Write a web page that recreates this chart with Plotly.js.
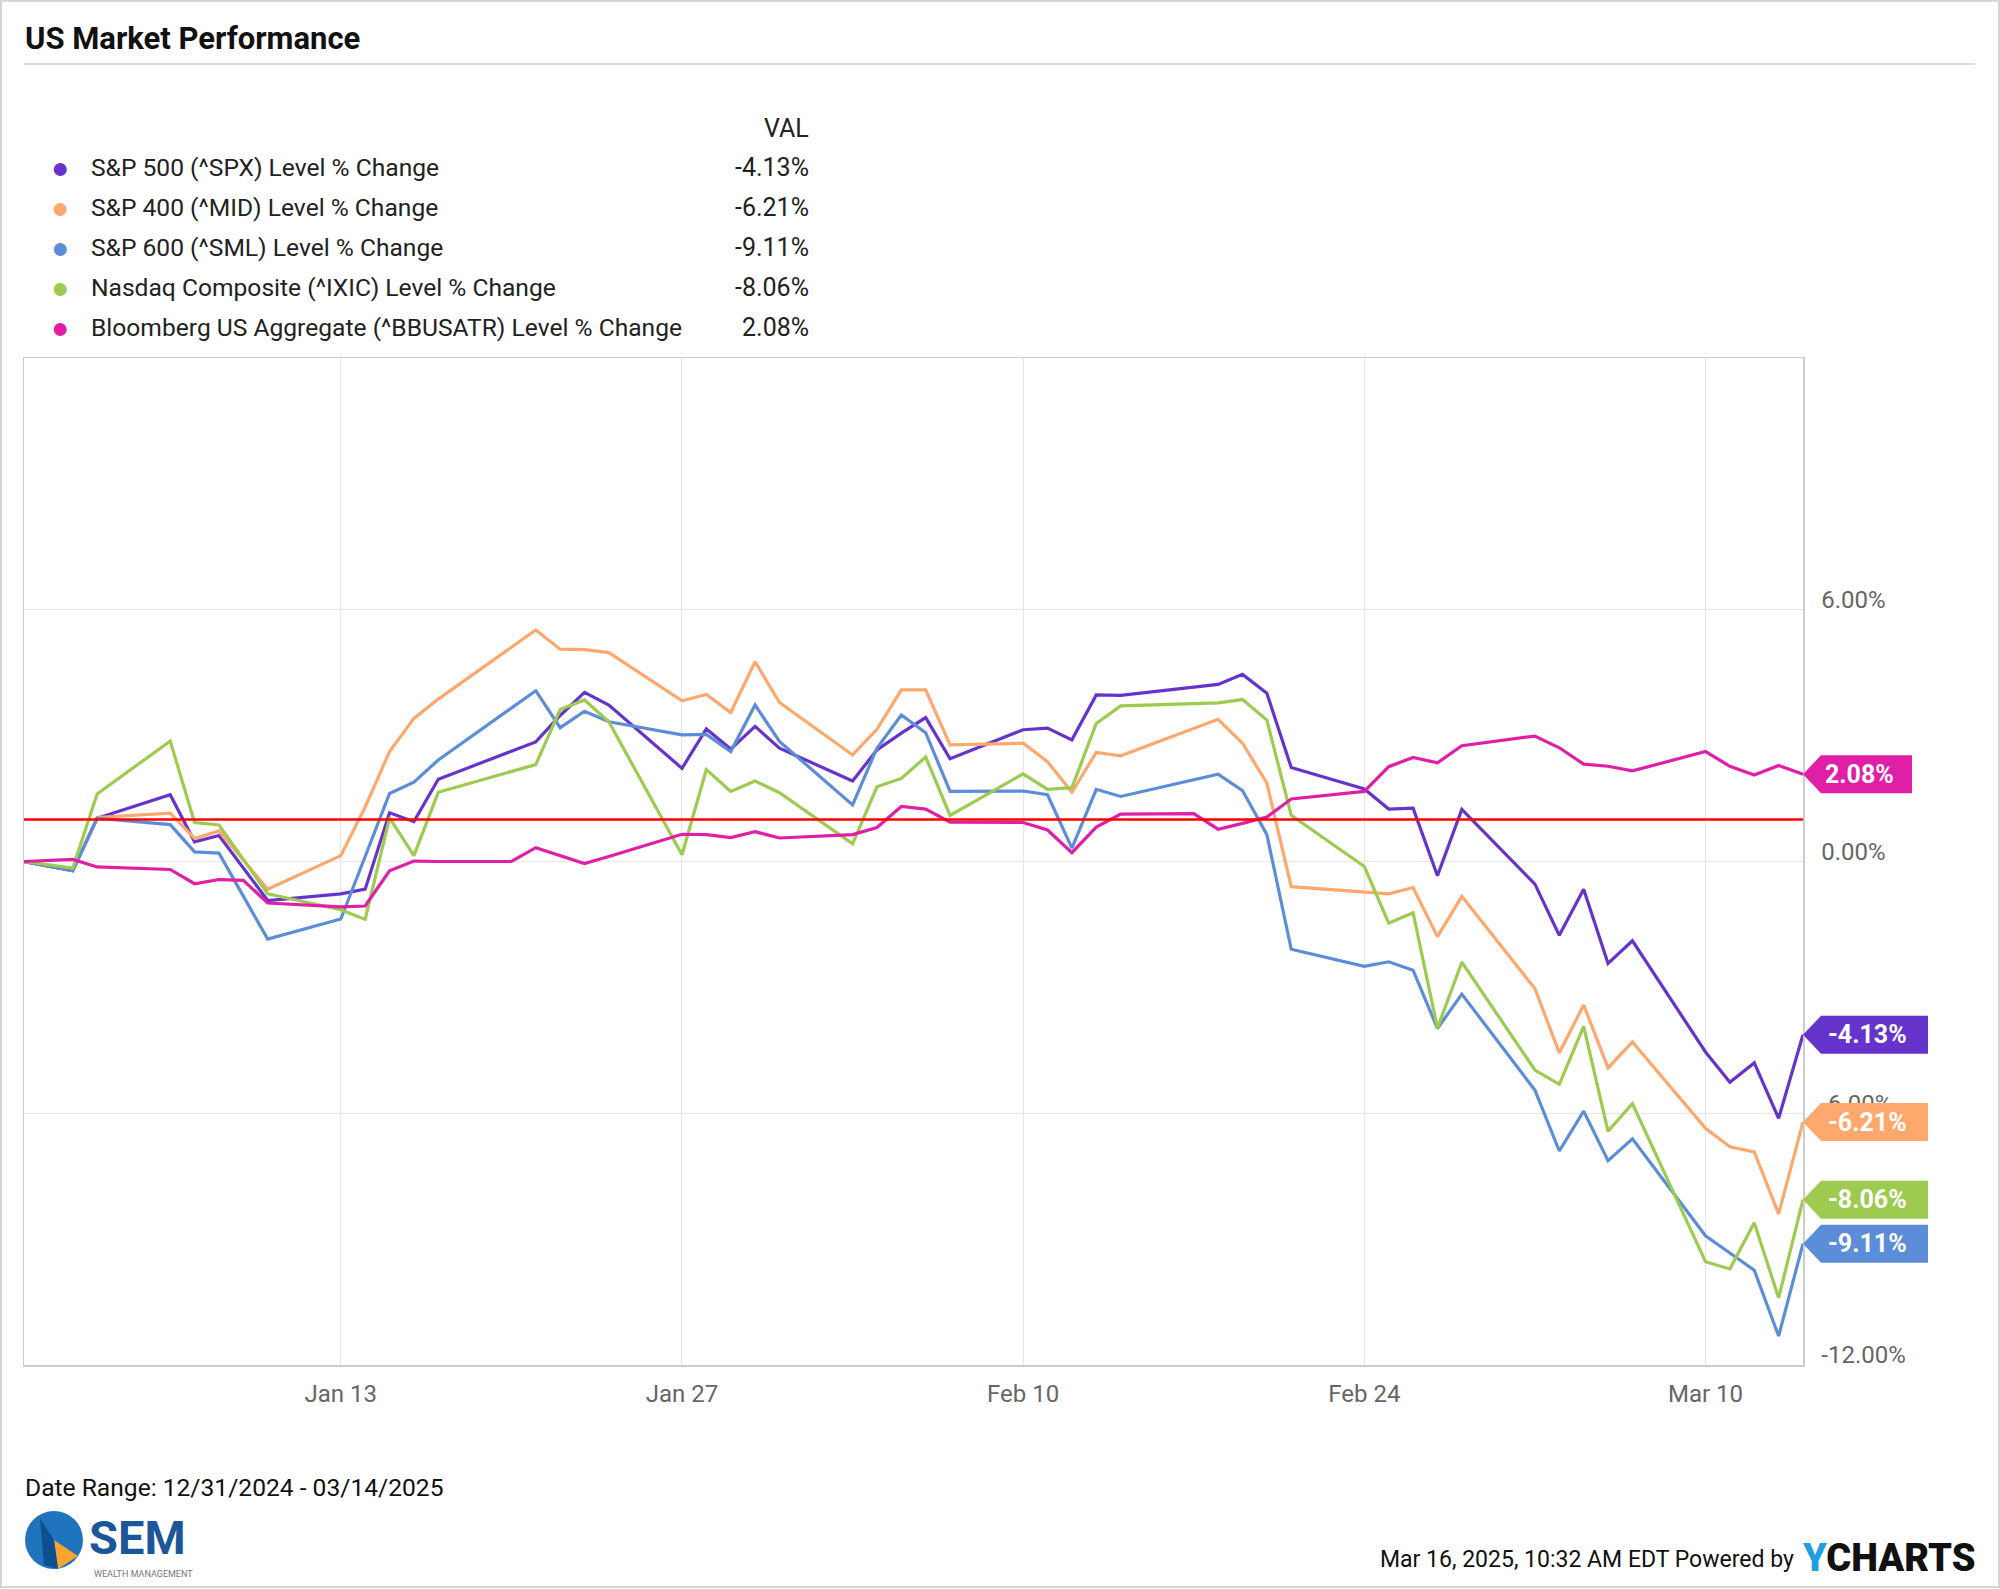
<!DOCTYPE html>
<html>
<head>
<meta charset="utf-8">
<script src="https://cdn.plot.ly/plotly-3.0.1.min.js"></script>
<style>
  html, body { margin: 0; padding: 0; background: #ffffff; }
  #chart { width: 2000px; height: 1589px; }
</style>
</head>
<body>
<div id="chart"></div>
<script>
// ---------------- DATA ----------------
const stockDates = [
  '2024-12-31','2025-01-02','2025-01-03','2025-01-06','2025-01-07','2025-01-08','2025-01-10',
  '2025-01-13','2025-01-14','2025-01-15','2025-01-16','2025-01-17','2025-01-21','2025-01-22',
  '2025-01-23','2025-01-24','2025-01-27','2025-01-28','2025-01-29','2025-01-30','2025-01-31',
  '2025-02-03','2025-02-04','2025-02-05','2025-02-06','2025-02-07','2025-02-10','2025-02-11',
  '2025-02-12','2025-02-13','2025-02-14','2025-02-18','2025-02-19','2025-02-20','2025-02-21',
  '2025-02-24','2025-02-25','2025-02-26','2025-02-27','2025-02-28','2025-03-03','2025-03-04',
  '2025-03-05','2025-03-06','2025-03-07','2025-03-10','2025-03-11','2025-03-12','2025-03-13',
  '2025-03-14'
];
const bondDates = [
  '2024-12-31','2025-01-02','2025-01-03','2025-01-06','2025-01-07','2025-01-08','2025-01-09',
  '2025-01-10','2025-01-13','2025-01-14','2025-01-15','2025-01-16','2025-01-17','2025-01-20',
  '2025-01-21','2025-01-22','2025-01-23','2025-01-24','2025-01-27','2025-01-28','2025-01-29',
  '2025-01-30','2025-01-31','2025-02-03','2025-02-04','2025-02-05','2025-02-06','2025-02-07',
  '2025-02-10','2025-02-11','2025-02-12','2025-02-13','2025-02-14','2025-02-17','2025-02-18',
  '2025-02-19','2025-02-20','2025-02-21','2025-02-24','2025-02-25','2025-02-26','2025-02-27',
  '2025-02-28','2025-03-03','2025-03-04','2025-03-05','2025-03-06','2025-03-07','2025-03-10',
  '2025-03-11','2025-03-12','2025-03-13','2025-03-14'
];
const spx = [0, -0.22, 1.03, 1.59, 0.47, 0.62, -0.93, -0.77, -0.66, 1.16, 0.95, 1.96, 2.85, 3.48,
  4.03, 3.73, 2.22, 3.16, 2.68, 3.22, 2.70, 1.92, 2.66, 3.06, 3.43, 2.45, 3.14, 3.18, 2.90, 3.97,
  3.96, 4.22, 4.46, 4.01, 2.24, 1.73, 1.25, 1.27, -0.34, 1.24, -0.54, -1.76, -0.66, -2.43, -1.89,
  -4.54, -5.26, -4.80, -6.12, -4.13];
const mid = [0, -0.20, 1.05, 1.15, 0.55, 0.73, -0.66, 0.14, 1.30, 2.62, 3.41, 3.87, 5.52, 5.06,
  5.05, 4.98, 3.83, 3.98, 3.55, 4.76, 3.79, 2.54, 3.15, 4.09, 4.09, 2.78, 2.82, 2.38, 1.65, 2.60,
  2.52, 3.39, 2.82, 1.87, -0.60, -0.72, -0.77, -0.62, -1.79, -0.83, -3.03, -4.56, -3.42, -4.92,
  -4.30, -6.36, -6.80, -6.92, -8.40, -6.21];
const sml = [0, -0.22, 1.03, 0.88, 0.23, 0.20, -1.85, -1.37, 0.12, 1.62, 1.89, 2.42, 4.07, 3.19,
  3.58, 3.33, 3.02, 3.03, 2.62, 3.73, 2.86, 1.35, 2.70, 3.49, 3.07, 1.67, 1.68, 1.59, 0.32, 1.72,
  1.55, 2.08, 1.69, 0.64, -2.09, -2.50, -2.39, -2.59, -3.98, -3.16, -5.45, -6.90, -5.95, -7.13,
  -6.61, -8.92, -9.33, -9.74, -11.31, -9.11];
const ixic = [0, -0.16, 1.61, 2.87, 0.93, 0.87, -0.77, -1.15, -1.38, 1.04, 0.14, 1.65, 2.31, 3.62,
  3.85, 3.33, 0.16, 2.19, 1.67, 1.92, 1.64, 0.42, 1.78, 1.98, 2.49, 1.10, 2.09, 1.72, 1.76, 3.29,
  3.71, 3.78, 3.86, 3.37, 1.10, -0.12, -1.47, -1.22, -3.97, -2.40, -4.97, -5.31, -3.93, -6.43,
  -5.77, -9.54, -9.71, -8.61, -10.40, -8.06];
const bbusatr = [0, 0.05, -0.13, -0.19, -0.53, -0.43, -0.45, -0.99, -1.08, -1.06, -0.22, 0.01, 0.00,
  0.00, 0.33, 0.14, -0.05, 0.12, 0.65, 0.64, 0.57, 0.71, 0.56, 0.64, 0.81, 1.31, 1.25, 0.94, 0.93,
  0.75, 0.21, 0.82, 1.13, 1.14, 0.77, 0.91, 1.06, 1.49, 1.67, 2.26, 2.48, 2.35, 2.76, 2.99, 2.71,
  2.32, 2.27, 2.16, 2.62, 2.27, 2.06, 2.29, 2.08];

const seriesNames = [
  'S&P 500 (^SPX) Level % Change',
  'S&P 400 (^MID) Level % Change',
  'S&P 600 (^SML) Level % Change',
  'Nasdaq Composite (^IXIC) Level % Change',
  'Bloomberg US Aggregate (^BBUSATR) Level % Change'
];
const seriesColors = ['#6633cc', '#ffa86e', '#5b8dd9', '#9ccb4f', '#e01fa6'];
const seriesX = [stockDates, stockDates, stockDates, stockDates, bondDates];
const seriesY = [spx, mid, sml, ixic, bbusatr];

const refLevel = [1.0];
const yTickVals = [-12, -6, 0, 6];
const xTickVals = ['2025-01-13', '2025-01-27', '2025-02-10', '2025-02-24', '2025-03-10'];
const xRange = ['2024-12-31', '2025-03-14'];
const yRange = [-12, 12];

// ---------------- LAYOUT HELPERS ----------------
const W = 2000, H = 1589;
const M = { l: 24, r: 197, t: 358, b: 224 };
const PW = W - M.l - M.r, PH = H - M.t - M.b;
const px2x = p => (p - M.l) / PW;
const px2y = p => (H - M.b - p) / PH;
const yUnitsPerPx = (yRange[1] - yRange[0]) / PH;
const FONT = 'Roboto, "Noto Sans", Arial, sans-serif';

const traces = seriesNames.map((n, i) => ({
  type: 'scatter', mode: 'lines', name: n,
  x: seriesX[i], y: seriesY[i],
  line: { color: seriesColors[i], width: 3.2 },
  hoverinfo: 'skip', showlegend: false
}));

const shapes = [];
const annotations = [];

// outer frame and title divider
shapes.push({ type: 'rect', xref: 'paper', yref: 'paper',
  x0: px2x(1), x1: px2x(1999), y0: px2y(1587), y1: px2y(1),
  line: { color: '#d6d6d6', width: 2 }, layer: 'below' });
shapes.push({ type: 'line', xref: 'paper', yref: 'paper',
  x0: px2x(24), x1: px2x(1975), y0: px2y(64), y1: px2y(64),
  line: { color: '#cfcfcf', width: 1.5 } });

// red reference line
shapes.push({ type: 'line', xref: 'paper', yref: 'y', x0: 0, x1: 1,
  y0: refLevel[0], y1: refLevel[0], line: { color: '#ff0000', width: 2.5 }, layer: 'above' });

// end-of-series value tags
seriesY.forEach((ys, i) => {
  const v = ys[ys.length - 1];
  const label = v.toFixed(2) + '%';
  const tipPx = 18, rectPx = 16 * label.length + 11, hPx = 38;
  const x0 = 1, x1 = 1 + tipPx / PW, x2 = 1 + (tipPx + rectPx) / PW;
  const hh = hPx * yUnitsPerPx / 2;
  shapes.push({ type: 'path', xref: 'paper', yref: 'y', layer: 'above',
    path: `M ${x0},${v} L ${x1},${v + hh} L ${x2},${v + hh} L ${x2},${v - hh} L ${x1},${v - hh} Z`,
    fillcolor: seriesColors[i], line: { width: 0 } });
  annotations.push({ xref: 'paper', yref: 'y', x: 1 + (tipPx + rectPx / 2 - 7) / PW, y: v,
    text: '<b>' + label + '</b>', showarrow: false, xanchor: 'center', yanchor: 'middle',
    font: { family: FONT, size: 25, color: '#ffffff' } });
});

// title
annotations.push({ xref: 'paper', yref: 'paper', x: px2x(23), y: px2y(38),
  text: '<b>US Market Performance</b>', showarrow: false, xanchor: 'left', yanchor: 'middle',
  font: { family: FONT, size: 31, color: '#111111' } });

// legend (custom table)
annotations.push({ xref: 'paper', yref: 'paper', x: px2x(811), y: px2y(128), text: 'VAL',
  showarrow: false, xanchor: 'right', yanchor: 'middle', font: { family: FONT, size: 25, color: '#222222' } });
seriesNames.forEach((n, i) => {
  const yy = px2y(167 + 40 * i);
  const ys = seriesY[i];
  annotations.push({ xref: 'paper', yref: 'paper', x: px2x(60), y: yy, text: '●', showarrow: false,
    xanchor: 'center', yanchor: 'middle', font: { family: FONT, size: 30, color: seriesColors[i] } });
  annotations.push({ xref: 'paper', yref: 'paper', x: px2x(89), y: yy, text: n, showarrow: false,
    xanchor: 'left', yanchor: 'middle', font: { family: FONT, size: 24.6, color: '#222222' } });
  annotations.push({ xref: 'paper', yref: 'paper', x: px2x(811), y: yy,
    text: ys[ys.length - 1].toFixed(2) + '%', showarrow: false,
    xanchor: 'right', yanchor: 'middle', font: { family: FONT, size: 25, color: '#222222' } });
});

// footer
annotations.push({ xref: 'paper', yref: 'paper', x: px2x(23), y: px2y(1487),
  text: 'Date Range: 12/31/2024 - 03/14/2025', showarrow: false, xanchor: 'left', yanchor: 'middle',
  font: { family: FONT, size: 24.6, color: '#111111' } });
annotations.push({ xref: 'paper', yref: 'paper', x: px2x(1796), y: px2y(1559),
  text: 'Mar 16, 2025, 10:32 AM EDT Powered by', showarrow: false, xanchor: 'right', yanchor: 'middle',
  font: { family: FONT, size: 23, color: '#111111' } });
annotations.push({ xref: 'paper', yref: 'paper', x: px2x(1800), y: px2y(1558),
  text: '<span style="color:#1e9fe0">Y</span>CHARTS', showarrow: false, xanchor: 'left', yanchor: 'middle',
  font: { family: FONT, size: 38, color: '#111111', weight: 900 } });

// SEM logo
shapes.push({ type: 'circle', xref: 'paper', yref: 'paper',
  x0: px2x(25), x1: px2x(83), y0: px2y(1569), y1: px2y(1511),
  fillcolor: '#1f74bd', line: { width: 0 } });
shapes.push({ type: 'path', xref: 'paper', yref: 'paper',
  path: `M ${px2x(54)},${px2y(1540)} L ${px2x(78)},${px2y(1556)} L ${px2x(58)},${px2y(1569)} Z`,
  fillcolor: '#f7a530', line: { width: 0 } });
shapes.push({ type: 'path', xref: 'paper', yref: 'paper',
  path: `M ${px2x(40)},${px2y(1518)} L ${px2x(54)},${px2y(1540)} L ${px2x(58)},${px2y(1569)} L ${px2x(44)},${px2y(1565)} Z`,
  fillcolor: '#0d4f8f', line: { width: 0 } });
annotations.push({ xref: 'paper', yref: 'paper', x: px2x(87), y: px2y(1567), text: '<b>SEM</b>',
  showarrow: false, xanchor: 'left', yanchor: 'bottom',
  font: { family: FONT, size: 47, color: '#1c5598' } });
annotations.push({ xref: 'paper', yref: 'paper', x: px2x(92), y: px2y(1574), text: 'WEALTH MANAGEMENT',
  showarrow: false, xanchor: 'left', yanchor: 'middle',
  font: { family: FONT, size: 9, color: '#777777' } });

const layout = {
  width: W, height: H,
  margin: M,
  paper_bgcolor: '#ffffff', plot_bgcolor: '#ffffff',
  showlegend: false, hovermode: false,
  font: { family: FONT },
  xaxis: {
    type: 'date', range: xRange, tickvals: xTickVals, tickformat: '%b %d',
    tickfont: { family: FONT, size: 24, color: '#666666' },
    showgrid: true, gridcolor: '#e6e6e6', gridwidth: 1,
    showline: true, mirror: true, linecolor: '#cccccc', linewidth: 1.5,
    ticks: '', ticklabelstandoff: 7, zeroline: false, fixedrange: true
  },
  yaxis: {
    side: 'right', range: yRange, tickvals: yTickVals,
    ticktext: yTickVals.map(v => v.toFixed(2) + '%'),
    tickfont: { family: FONT, size: 24, color: '#666666' },
    ticklabelposition: 'outside', ticklabelshift: -10, ticks: '', ticklabelstandoff: 12,
    showgrid: true, gridcolor: '#e6e6e6', gridwidth: 1,
    showline: true, mirror: true, linecolor: '#cccccc', linewidth: 1.5,
    zeroline: false, fixedrange: true
  },
  shapes: shapes,
  annotations: annotations
};

Plotly.newPlot('chart', traces, layout, { displayModeBar: false, staticPlot: true });
</script>
</body>
</html>
